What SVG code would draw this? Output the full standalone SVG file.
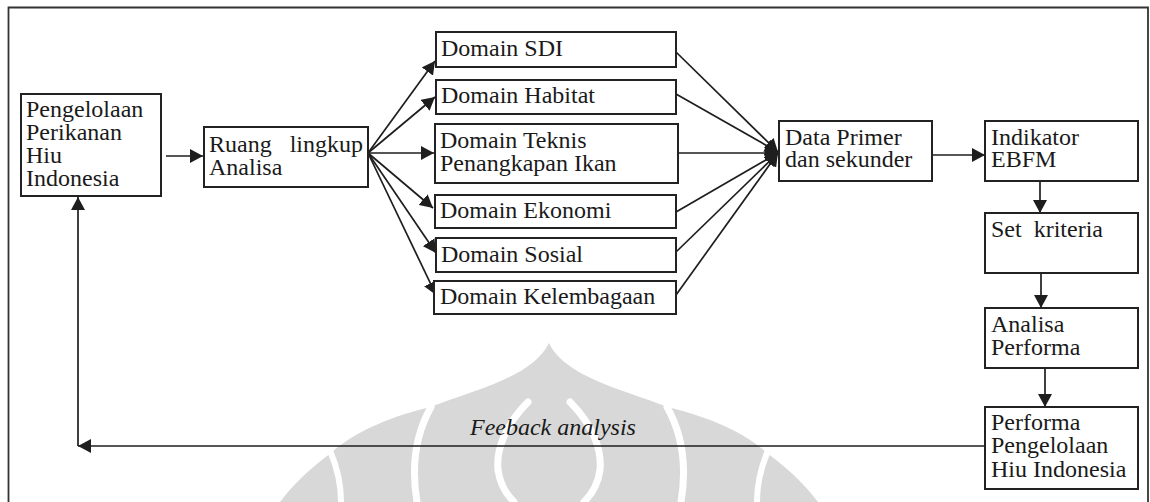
<svg xmlns="http://www.w3.org/2000/svg" width="1150" height="502" viewBox="0 0 1150 502">
<style>
.box{fill:#fff;stroke:#222;stroke-width:2}
.t{font-family:"Liberation Serif","DejaVu Serif","Noto Serif","Times New Roman",serif;font-size:24px;fill:#1a1a1a}
.ti{font-family:"Liberation Serif","DejaVu Serif","Noto Serif","Times New Roman",serif;font-size:24px;font-style:italic;fill:#1a1a1a}
.c{fill:none;stroke:#1e1e1e;stroke-width:1.7}
.wm{fill:#d8d8d8}
.ws{fill:none;stroke:#fff;stroke-linecap:round}
</style>
<defs>
<marker id="ah" markerUnits="userSpaceOnUse" markerWidth="14" markerHeight="14" refX="13" refY="7" orient="auto">
<path d="M0,0 L13,7 L0,14 Z" fill="#1e1e1e"/>
</marker>
</defs>
<rect width="1150" height="502" fill="#fff"/>
<g id="watermark">
<path class="wm" d="M549,343 C560,366 590,379 620,390 C640,397 655,402 667,407 C702,415 742,430 767,453 C790,470 805,485 818,502 L280,502 C293,485 308,470 331,453 C356,430 396,415 431,407 C443,402 458,397 478,390 C508,379 538,366 549,343 Z"/>
<path class="ws" stroke-width="7" d="M431,407 C418,430 410,460 417,502"/>
<path class="ws" stroke-width="7" d="M667,407 C680,430 688,460 681,502"/>
<path class="ws" stroke-width="6" d="M331,453 C338,470 341,485 341,502"/>
<path class="ws" stroke-width="6" d="M767,453 C760,470 757,485 757,502"/>
<path class="ws" stroke-width="7" d="M528,402 C505,425 496,450 498,470 C500,485 507,495 514,502"/>
<path class="ws" stroke-width="7" d="M570,402 C593,425 602,450 600,470 C598,485 591,495 584,502"/>
</g>
<path id="frame" d="M8.5,510 L8.5,7.5 L1148,7.5 L1148,510" fill="none" stroke="#333" stroke-width="1.8"/>
<g id="connectors">
<line class="c" x1="166" y1="156" x2="203" y2="156" marker-end="url(#ah)"/>
<line class="c" x1="368" y1="153" x2="435" y2="61" marker-end="url(#ah)"/>
<line class="c" x1="368" y1="153" x2="435" y2="97" marker-end="url(#ah)"/>
<line class="c" x1="368" y1="153" x2="434" y2="153" marker-end="url(#ah)"/>
<line class="c" x1="368" y1="153" x2="433" y2="208" marker-end="url(#ah)"/>
<line class="c" x1="368" y1="153" x2="436" y2="253" marker-end="url(#ah)"/>
<line class="c" x1="368" y1="153" x2="436" y2="295" marker-end="url(#ah)"/>
<line class="c" x1="676" y1="52" x2="778" y2="152" marker-end="url(#ah)"/>
<line class="c" x1="676" y1="94" x2="778" y2="152" marker-end="url(#ah)"/>
<line class="c" x1="678" y1="153" x2="778" y2="153" marker-end="url(#ah)"/>
<line class="c" x1="676" y1="212" x2="778" y2="153" marker-end="url(#ah)"/>
<line class="c" x1="676" y1="252" x2="778" y2="153" marker-end="url(#ah)"/>
<line class="c" x1="676" y1="295" x2="778" y2="153" marker-end="url(#ah)"/>
<line class="c" x1="932" y1="155" x2="985" y2="155" marker-end="url(#ah)"/>
<line class="c" x1="1040" y1="181" x2="1040" y2="213" marker-end="url(#ah)"/>
<line class="c" x1="1041" y1="273" x2="1041" y2="308" marker-end="url(#ah)"/>
<line class="c" x1="1045" y1="368" x2="1045" y2="407" marker-end="url(#ah)"/>
<line class="c" x1="985" y1="446" x2="78" y2="446" marker-end="url(#ah)"/>
<line class="c" x1="78" y1="446" x2="78" y2="197" marker-end="url(#ah)"/>
<text class="ti" x="470" y="435">Feeback analysis</text>
</g>
<g id="n-pengelolaan">
<rect class="box" x="21" y="94" width="140" height="102"/>
<text class="t"><tspan x="26" y="117">Pengelolaan</tspan><tspan x="26" y="140">Perikanan</tspan><tspan x="26" y="163">Hiu</tspan><tspan x="26" y="186">Indonesia</tspan></text>
</g>
<g id="n-ruang">
<rect class="box" x="204" y="127" width="164" height="60"/>
<text class="t"><tspan x="209" y="152">Ruang</tspan><tspan x="363" y="152" text-anchor="end">lingkup</tspan><tspan x="209" y="175">Analisa</tspan></text>
</g>
<g id="n-sdi">
<rect class="box" x="436" y="32" width="240" height="35"/>
<text class="t" x="441" y="56">Domain SDI</text>
</g>
<g id="n-habitat">
<rect class="box" x="436" y="80" width="240" height="34"/>
<text class="t" x="441" y="103">Domain Habitat</text>
</g>
<g id="n-teknis">
<rect class="box" x="435" y="124" width="243" height="59"/>
<text class="t"><tspan x="440" y="148">Domain Teknis</tspan><tspan x="440" y="171">Penangkapan Ikan</tspan></text>
</g>
<g id="n-ekonomi">
<rect class="box" x="435" y="195" width="241" height="33"/>
<text class="t" x="440" y="218">Domain Ekonomi</text>
</g>
<g id="n-sosial">
<rect class="box" x="436" y="238" width="240" height="34"/>
<text class="t" x="441" y="262">Domain Sosial</text>
</g>
<g id="n-kelembagaan">
<rect class="box" x="434" y="281" width="242" height="33"/>
<text class="t" x="440" y="304">Domain Kelembagaan</text>
</g>
<g id="n-data">
<rect class="box" x="779" y="121" width="153" height="60"/>
<text class="t"><tspan x="785" y="145">Data Primer</tspan><tspan x="785" y="167">dan sekunder</tspan></text>
</g>
<g id="n-indikator">
<rect class="box" x="985" y="121" width="153" height="60"/>
<text class="t"><tspan x="991" y="145">Indikator</tspan><tspan x="991" y="167">EBFM</tspan></text>
</g>
<g id="n-set">
<rect class="box" x="985" y="213" width="153" height="60"/>
<text class="t" x="991" y="237" word-spacing="6">Set kriteria</text>
</g>
<g id="n-analisa">
<rect class="box" x="985" y="308" width="153" height="60"/>
<text class="t"><tspan x="991" y="332">Analisa</tspan><tspan x="991" y="355">Performa</tspan></text>
</g>
<g id="n-performa">
<rect class="box" x="985" y="407" width="153" height="82"/>
<text class="t"><tspan x="991" y="430">Performa</tspan><tspan x="991" y="453">Pengelolaan</tspan><tspan x="991" y="477">Hiu Indonesia</tspan></text>
</g>
</svg>
